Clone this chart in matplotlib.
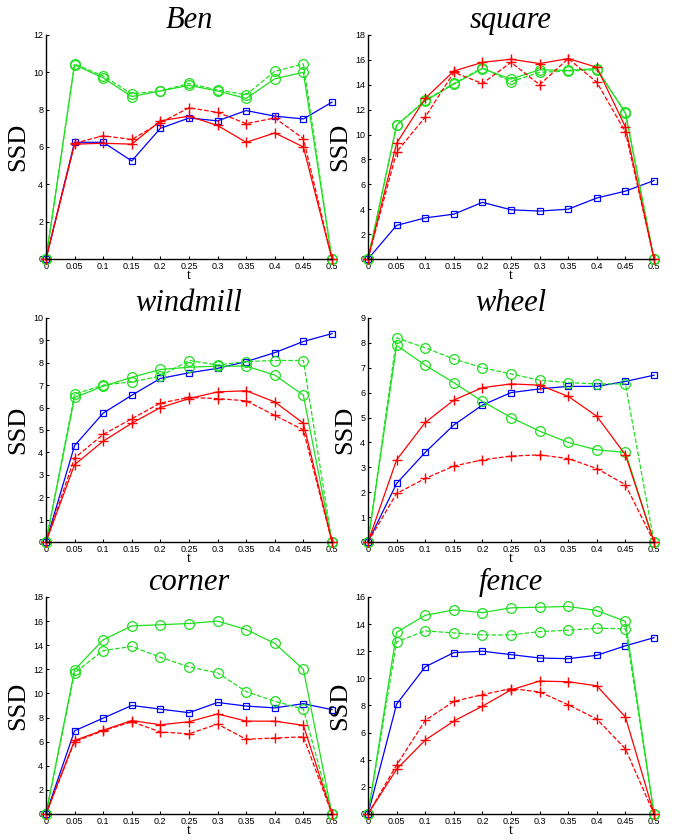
import numpy as np
import matplotlib
matplotlib.use("Agg")
import matplotlib.pyplot as plt

t = [0, 0.05, 0.1, 0.15, 0.2, 0.25, 0.3, 0.35, 0.4, 0.45, 0.5]
t_labels = ['0', '0.05', '0.1', '0.15', '0.2', '0.25', '0.3', '0.35', '0.4', '0.45', '0.5']

titles = ['Ben', 'square', 'windmill', 'wheel', 'corner', 'fence']
ymax = [12, 18, 10, 9, 18, 16]
ystep = [2, 2, 1, 1, 2, 2]

# blue squares (solid)
blue = [
    [0, 6.25, 6.25, 5.25, 7.0, 7.55, 7.4, 7.95, 7.65, 7.5, 8.4],
    [0, 2.7, 3.3, 3.6, 4.55, 3.95, 3.85, 4.0, 4.9, 5.45, 6.3],
    [0, 4.3, 5.75, 6.55, 7.3, 7.55, 7.75, 8.05, 8.45, 8.95, 9.3],
    [0, 2.35, 3.6, 4.7, 5.5, 6.0, 6.15, 6.25, 6.25, 6.45, 6.7],
    [0, 6.9, 7.95, 9.0, 8.7, 8.4, 9.25, 8.95, 8.8, 9.15, 8.65],
    [0, 8.1, 10.85, 11.9, 12.0, 11.75, 11.5, 11.45, 11.7, 12.4, 13.0],
]
# red plus, solid
red_solid = [
    [0, 6.15, 6.2, 6.15, 7.4, 7.65, 7.15, 6.25, 6.75, 6.0, 0],
    [0, 9.3, 12.9, 15.1, 15.8, 16.05, 15.7, 16.1, 15.4, 10.6, 0],
    [0, 3.45, 4.5, 5.3, 6.0, 6.4, 6.7, 6.75, 6.25, 5.3, 0],
    [0, 3.3, 4.8, 5.7, 6.2, 6.35, 6.3, 5.85, 5.05, 3.5, 0],
    [0, 6.1, 6.95, 7.75, 7.4, 7.65, 8.3, 7.7, 7.7, 7.35, 0],
    [0, 3.3, 5.45, 6.85, 7.95, 9.15, 9.8, 9.75, 9.45, 7.15, 0],
]
# red plus, dashed
red_dash = [
    [0, 6.2, 6.6, 6.4, 7.3, 8.1, 7.85, 7.25, 7.55, 6.45, 0],
    [0, 8.6, 11.4, 15.0, 14.1, 15.8, 14.0, 16.1, 14.2, 10.2, 0],
    [0, 3.75, 4.8, 5.5, 6.2, 6.45, 6.4, 6.3, 5.65, 5.0, 0],
    [0, 1.95, 2.55, 3.05, 3.3, 3.45, 3.5, 3.35, 2.95, 2.3, 0],
    [0, 6.0, 6.9, 7.65, 6.8, 6.65, 7.45, 6.2, 6.3, 6.4, 0],
    [0, 3.6, 6.9, 8.3, 8.8, 9.25, 9.0, 8.05, 7.0, 4.8, 0],
]
# green circles, solid
green_solid = [
    [0, 10.4, 9.7, 8.7, 9.0, 9.3, 9.0, 8.6, 9.65, 10.0, 0],
    [0, 10.75, 12.7, 14.05, 15.3, 14.45, 15.2, 15.15, 15.3, 11.7, 0],
    [0, 6.45, 6.95, 7.35, 7.7, 7.8, 7.85, 7.85, 7.45, 6.55, 0],
    [0, 7.9, 7.1, 6.4, 5.65, 5.0, 4.45, 4.0, 3.7, 3.6, 0],
    [0, 11.95, 14.45, 15.6, 15.7, 15.8, 16.0, 15.3, 14.15, 12.0, 0],
    [0, 13.4, 14.65, 15.05, 14.85, 15.2, 15.25, 15.3, 15.0, 14.2, 0],
]
# green circles, dashed
green_dash = [
    [0, 10.45, 9.8, 8.85, 9.0, 9.4, 9.05, 8.8, 10.05, 10.45, 0],
    [0, 10.75, 12.75, 14.1, 15.35, 14.25, 15.0, 15.1, 15.2, 11.8, 0],
    [0, 6.6, 7.0, 7.15, 7.4, 8.1, 7.9, 8.05, 8.1, 8.1, 0],
    [0, 8.2, 7.8, 7.35, 7.0, 6.75, 6.5, 6.4, 6.35, 6.35, 0],
    [0, 11.7, 13.55, 13.9, 13.0, 12.2, 11.7, 10.15, 9.35, 8.7, 0],
    [0, 12.7, 13.5, 13.35, 13.2, 13.2, 13.45, 13.55, 13.7, 13.65, 0],
]

BLUE = '#0000ff'
RED = '#ff0000'
GREEN = '#1ee01e'

fig = plt.figure(figsize=(6.8, 8.4), dpi=100)

lefts = [0.0676, 0.5412]
# [bottom, height] per row
rows = [(0.6917, 0.2667), (0.3548, 0.2667), (0.0310, 0.2583)]
w = 0.4206

for i in range(6):
    row, col = i // 2, i % 2
    ax = fig.add_axes([lefts[col], rows[row][0], w, rows[row][1]])

    ax.plot(t, blue[i], '-s', color=BLUE, lw=0.9, ms=5, mfc='none', mew=0.9)
    ax.plot(t, green_solid[i], '-o', color=GREEN, lw=0.9, ms=7, mfc='none', mew=0.9)
    ax.plot(t, green_dash[i], '--o', color=GREEN, lw=0.9, ms=7, mfc='none', mew=0.9)
    ax.plot(t, red_solid[i], '-+', color=RED, lw=0.9, ms=7, mew=1.0)
    ax.plot(t, red_dash[i], '--+', color=RED, lw=0.9, ms=7, mew=1.0)

    ax.set_xlim(0, 0.5)
    ax.set_ylim(0, ymax[i])
    ax.set_xticks(t)
    ax.set_xticklabels(t_labels)
    yt = np.arange(0, ymax[i] + 0.01, ystep[i])
    ax.set_yticks(yt)
    ax.set_yticklabels([str(int(v)) for v in yt])
    ax.tick_params(direction='in', length=2.5, width=0.8, labelsize=6.5, pad=2)
    for lab in ax.get_xticklabels() + ax.get_yticklabels():
        lab.set_fontfamily('Liberation Sans')
    ax.spines['top'].set_visible(False)
    ax.spines['right'].set_visible(False)
    ax.spines['left'].set_linewidth(1.0)
    ax.spines['bottom'].set_linewidth(1.0)
    for ln in ax.lines:
        ln.set_clip_on(False)

    ax.set_title(titles[i], fontfamily='Liberation Serif', fontstyle='italic',
                 fontsize=22, pad=3)
    ax.set_ylabel('SSD', fontfamily='Liberation Serif', fontsize=19, labelpad=3)
    ax.set_xlabel('t', fontfamily='Liberation Serif', fontsize=10, labelpad=-1)

fig.savefig('out.png', dpi=100)
